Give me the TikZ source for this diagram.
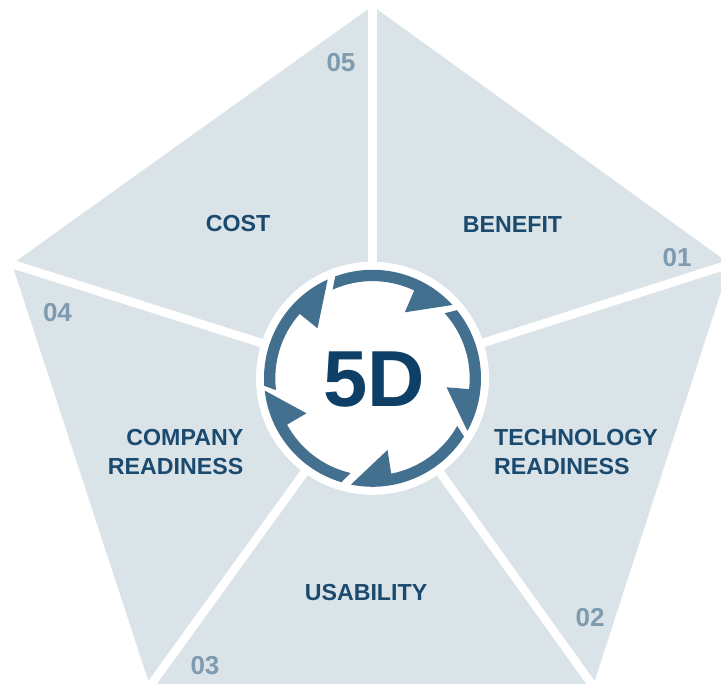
\documentclass[tikz,border=0pt]{standalone}
\usepackage{fontspec}
\setmainfont{Liberation Sans}
\definecolor{panel}{HTML}{DAE3E8}
\definecolor{ringblue}{HTML}{44708F}
\definecolor{navy}{HTML}{1B4A6F}
\definecolor{deep}{HTML}{0E3F66}
\definecolor{numgrey}{HTML}{7F9BB0}
\tikzset{
  x=1pt,y=1pt,
  spoke/.style={white,line width=8.5pt},
  label/.style={text=navy,font=\fontsize{23.2}{29}\selectfont\bfseries,inner sep=0pt},
  num/.style={text=numgrey,font=\fontsize{26}{30}\selectfont\bfseries,inner sep=0pt},
  arrowpiece/.style={fill=ringblue,draw=none},
}
\newcommand{\arrowseg}[6]{% tail-outer angle, tip angle, notch x, notch y, inner angle, tail-inner angle
  \fill[arrowpiece] (#1:108.5pt) arc[start angle=#1,end angle=#2,radius=108.5pt]
    -- (#3pt/3,#4pt/3) -- (#5:97.2pt) arc[start angle=#5,end angle=#6,radius=97.2pt] -- cycle;
}
\begin{document}
\begin{tikzpicture}
\useasboundingbox (0,0) rectangle (721,684);
\coordinate (C) at (372.5,305.7);
\coordinate (vtop) at (372.5,678);
\coordinate (vright) at (730,420);
\coordinate (vbr) at (593,-2);
\coordinate (vbl) at (150,-2);
\coordinate (vleft) at (12,420);
\fill[panel] (vtop) -- (vright) -- (vbr) -- (vbl) -- (vleft) -- cycle;
\foreach \v in {vtop,vright,vbr,vbl,vleft}
  \draw[spoke] (C) -- (\v);
\fill[white] (C) circle[radius=116.5pt];
\begin{scope}[shift={(C)}]
\arrowseg{110.1}{42.5}{97}{198}{64.6}{114.2}
\arrowseg{38.9}{-29}{222}{-27}{-6.4}{42}
\arrowseg{-32.5}{-101.5}{45}{-215}{-78.9}{-29.4}
\arrowseg{-106.6}{-173.5}{-198}{-105}{-151.5}{-103}
\arrowseg{184}{114.4}{-165}{150}{138.5}{187}
\end{scope}
\node[text=deep,font=\fontsize{79.5}{82}\selectfont\bfseries,inner sep=0pt] (five) at (374,304.5) {5D};
\node[label] (benefit) at (512.5,459) {BENEFIT};
\node[label] (cost) at (238,460) {COST};
\node[label,align=left,anchor=west] (tech) at (494,232) {TECHNOLOGY\\READINESS};
\node[label,align=right,anchor=east] (comp) at (243.5,232) {COMPANY\\READINESS};
\node[label] (usab) at (366,91) {USABILITY};
\node[num] (n1) at (677,426) {01};
\node[num] (n2) at (590,66) {02};
\node[num] (n3) at (205,18) {03};
\node[num] (n4) at (57.5,371) {04};
\node[num] (n5) at (341,621) {05};
\end{tikzpicture}
\end{document}
